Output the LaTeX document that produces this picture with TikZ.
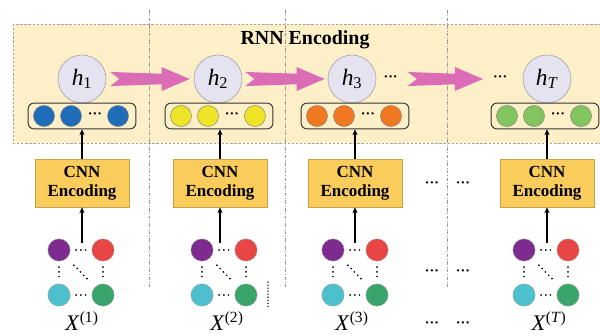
\documentclass[tikz,border=0pt]{standalone}
\usepackage{fontspec}
\setmainfont{Liberation Serif}
\usepackage{tikz}
\usetikzlibrary{positioning,calc,arrows.meta}
\definecolor{BgYellow}{HTML}{FDF0C9}
\definecolor{HsFill}{HTML}{E6E3F0}
\definecolor{HsLine}{HTML}{A0A0A8}
\definecolor{PinkArr}{HTML}{DB6CB5}
\definecolor{VBlue}{HTML}{1F6DB8}
\definecolor{VYellow}{HTML}{EEE428}
\definecolor{VOrange}{HTML}{F07820}
\definecolor{VGreen}{HTML}{82C45E}
\definecolor{CnnFill}{HTML}{F9CC5C}
\definecolor{CnnLine}{HTML}{C8A24A}
\definecolor{GPurple}{HTML}{7E2B8F}
\definecolor{GRed}{HTML}{E84545}
\definecolor{GCyan}{HTML}{4CC0CC}
\definecolor{GGreen}{HTML}{3AA56A}
\tikzset{
  % RNN background
  RB/.style={fill=BgYellow,draw=gray!70,line width=0.5pt,
             dash pattern=on 2pt off 1.5pt},
  TT/.style={font=\fontsize{17}{19}\selectfont\bfseries},
  % Hidden state
  HS/.style={circle,inner sep=0pt,minimum size=41pt,
             fill=HsFill,draw=HsLine,line width=0.5pt,
             font=\fontsize{20}{21}\selectfont},
  % Feature vector
  VB/.style={rectangle,rounded corners=5pt,
             minimum width=92pt,minimum height=22pt,
             draw=black!80,line width=0.8pt},
  VC/.style={circle,inner sep=0pt,minimum size=18pt,
             draw=black!50,line width=0.4pt},
  % CNN box
  CE/.style={rectangle,minimum width=80pt,minimum height=41pt,
             inner sep=1pt,
             fill=CnnFill,draw=CnnLine,line width=0.6pt,align=center,
             font=\fontsize{14.5}{16.5}\selectfont\bfseries},
  % Graph nodes
  GN/.style={circle,inner sep=0pt,minimum size=19pt,
             draw=black!40,line width=0.3pt},
  gdot/.style={line width=1.6pt,line cap=round,
               dash pattern=on 0pt off 4pt,
               shorten <=5pt,shorten >=5pt},
  DT/.style={inner sep=0pt,font=\fontsize{12}{12}\selectfont\bfseries},
  XL/.style={inner sep=0pt,anchor=base,font=\fontsize{19}{20}\selectfont},
  VL/.style={draw=gray!80,line width=0.6pt,
             dash pattern=on 3pt off 1.5pt on 0.5pt off 1.5pt},
  % Arrows
  arr/.style={-{Stealth[length=5pt,width=4.5pt]},line width=1.1pt},
  PA/.style={fill=PinkArr,to path={
    let \p1=(\tikztostart),\p2=(\tikztotarget) in
    (\x1,\y1+6pt) -- (\x2-24pt,\y1+4.5pt) -- (\x2-24pt,\y1+10.2pt)
    -- (\x2,\y1) -- (\x2-24pt,\y1-10.2pt) -- (\x2-24pt,\y1-4.5pt)
    -- (\x1,\y1-6pt) -- (\x1+7.7pt,\y1) -- cycle}}
}
\begin{document}
\begin{tikzpicture}[x=0.03cm,y=-0.03cm]
  \useasboundingbox (0,0) rectangle (600,335);
  \draw[RB] (13,24) rectangle (600,143);
  \node[TT] (title) at (305,40) {RNN Encoding};

  % hidden states
  \node[HS] (h1) at (82,79) {\textit{h}\textsubscript{1}};
  \node[HS] (h2) at (218,79) {\textit{h}\textsubscript{2}};
  \node[HS] (h3) at (352,79) {\textit{h}\textsubscript{3}};
  \node[HS] (hT) at (547,79) {\textit{h}\textsubscript{\textit{T}}};
  \node[DT,right=6pt of h3] (d3) {···};
  \node[DT,left=13pt of hT] (dT) {···};

  \fill[PA] ([xshift=3.4pt]h1.east) to ([xshift=-3.4pt]h2.west);
  \fill[PA] ([xshift=2.6pt]h2.east) to ([xshift=-2.6pt]h3.west);
  \fill[PA] ([xshift=8.5pt]d3.east) to ([xshift=-8.5pt]dT.west);

  % feature vectors
  \node[VB] (v1) at (82,116) {};
  \node[VC,fill=VBlue] (v1a) at ($(v1)+(-38,0)$) {};
  \node[VC,fill=VBlue] (v1b) at ($(v1)+(-11,0)$) {};
  \node[DT] (v1d) at ($(v1)+(13,0)$) {···};
  \node[VC,fill=VBlue] (v1c) at ($(v1)+(36,0)$) {};

  \node[VB] (v2) at (219,116) {};
  \node[VC,fill=VYellow] (v2a) at ($(v2)+(-38,0)$) {};
  \node[VC,fill=VYellow] (v2b) at ($(v2)+(-11,0)$) {};
  \node[DT] (v2d) at ($(v2)+(13,0)$) {···};
  \node[VC,fill=VYellow] (v2c) at ($(v2)+(36,0)$) {};

  \node[VB] (v3) at (355,116) {};
  \node[VC,fill=VOrange] (v3a) at ($(v3)+(-38,0)$) {};
  \node[VC,fill=VOrange] (v3b) at ($(v3)+(-11,0)$) {};
  \node[DT] (v3d) at ($(v3)+(13,0)$) {···};
  \node[VC,fill=VOrange] (v3c) at ($(v3)+(36,0)$) {};

  \node[VB] (v4) at (545,116) {};
  \node[VC,fill=VGreen] (v4a) at ($(v4)+(-38,0)$) {};
  \node[VC,fill=VGreen] (v4b) at ($(v4)+(-11,0)$) {};
  \node[DT] (v4d) at ($(v4)+(13,0)$) {···};
  \node[VC,fill=VGreen] (v4c) at ($(v4)+(36,0)$) {};

  % CNN encoders
  \node[CE] (cnn1) at (82,183) {CNN\\Encoding};
  \node[CE] (cnn2) at (220,183) {CNN\\Encoding};
  \node[CE] (cnn3) at (355,183) {CNN\\Encoding};
  \node[CE] (cnn4) at (547,183) {CNN\\Encoding};

  \draw[arr] (cnn1.north) -- (cnn1.north |- v1.south);
  \draw[arr] (cnn2.north) -- (cnn2.north |- v2.south);
  \draw[arr] (cnn3.north) -- (cnn3.north |- v3.south);
  \draw[arr] (cnn4.north) -- (cnn4.north |- v4.south);

  % input graphs
  \node[GN,fill=GPurple] (gp1) at (59,250) {};
  \node[GN,fill=GRed]    (gr1) at (103,250) {};
  \node[GN,fill=GCyan]   (gc1) at (59,295) {};
  \node[GN,fill=GGreen]  (gg1) at (103,295) {};

  \node[GN,fill=GPurple] (gp2) at (202,250) {};
  \node[GN,fill=GRed]    (gr2) at (246,250) {};
  \node[GN,fill=GCyan]   (gc2) at (202,295) {};
  \node[GN,fill=GGreen]  (gg2) at (246,295) {};

  \node[GN,fill=GPurple] (gp3) at (333,250) {};
  \node[GN,fill=GRed]    (gr3) at (377,250) {};
  \node[GN,fill=GCyan]   (gc3) at (333,295) {};
  \node[GN,fill=GGreen]  (gg3) at (377,295) {};

  \node[GN,fill=GPurple] (gp4) at (524,250) {};
  \node[GN,fill=GRed]    (gr4) at (568,250) {};
  \node[GN,fill=GCyan]   (gc4) at (524,295) {};
  \node[GN,fill=GGreen]  (gg4) at (568,295) {};

  \draw[gdot] (gp1) -- (gr1); \draw[gdot] (gc1) -- (gg1);
  \draw[gdot] (gp1) -- (gc1); \draw[gdot] (gr1) -- (gg1);
  \draw[gdot,shorten <=8.5pt,shorten >=8.5pt] (gp1) -- (gg1);
  \draw[gdot] (gp2) -- (gr2); \draw[gdot] (gc2) -- (gg2);
  \draw[gdot] (gp2) -- (gc2); \draw[gdot] (gr2) -- (gg2);
  \draw[gdot,shorten <=8.5pt,shorten >=8.5pt] (gp2) -- (gg2);
  \draw[gdot] (gp3) -- (gr3); \draw[gdot] (gc3) -- (gg3);
  \draw[gdot] (gp3) -- (gc3); \draw[gdot] (gr3) -- (gg3);
  \draw[gdot,shorten <=8.5pt,shorten >=8.5pt] (gp3) -- (gg3);
  \draw[gdot] (gp4) -- (gr4); \draw[gdot] (gc4) -- (gg4);
  \draw[gdot] (gp4) -- (gc4); \draw[gdot] (gr4) -- (gg4);
  \draw[gdot,shorten <=8.5pt,shorten >=8.5pt] (gp4) -- (gg4);
  \draw[gdot,shorten <=0pt,shorten >=0pt,dash pattern=on 0pt off 2.6pt,
        line width=1.3pt] (268,282) -- (268,307);

  \coordinate (gm1) at ($(gp1)!0.5!(gr1)+(0,-7)$);
  \coordinate (gm2) at ($(gp2)!0.5!(gr2)+(0,-7)$);
  \coordinate (gm3) at ($(gp3)!0.5!(gr3)+(0,-7)$);
  \coordinate (gm4) at ($(gp4)!0.5!(gr4)+(0,-7)$);
  \draw[arr] (gm1 -| cnn1) -- (cnn1);
  \draw[arr] (gm2 -| cnn2) -- (cnn2);
  \draw[arr] (gm3 -| cnn3) -- (cnn3);
  \draw[arr] (gm4 -| cnn4) -- (cnn4);

  \node[XL] (x1) at (82,330) {\textit{X}\textsuperscript{(1)}};
  \node[XL] (x2) at (227,330) {\textit{X}\textsuperscript{(2)}};
  \node[XL] (x3) at (352,330) {\textit{X}\textsuperscript{(3)}};
  \node[XL] (xT) at (549,330) {\textit{X}\textsuperscript{(\textit{T})}};

  % skipped steps
  \node[DT] (m1) at (432,185) {···};
  \node[DT] (m2) at (463,185) {···};
  \node[DT] (m3) at (432,273) {···};
  \node[DT] (m4) at (463,273) {···};
  \node[DT] (m5) at (432,325) {···};
  \node[DT] (m6) at (463,325) {···};

  \draw[VL] (149,10) -- (149,287);
  \draw[VL] (285,10) -- (285,287);
  \draw[VL] (447,10) -- (447,287);
\end{tikzpicture}
\end{document}
